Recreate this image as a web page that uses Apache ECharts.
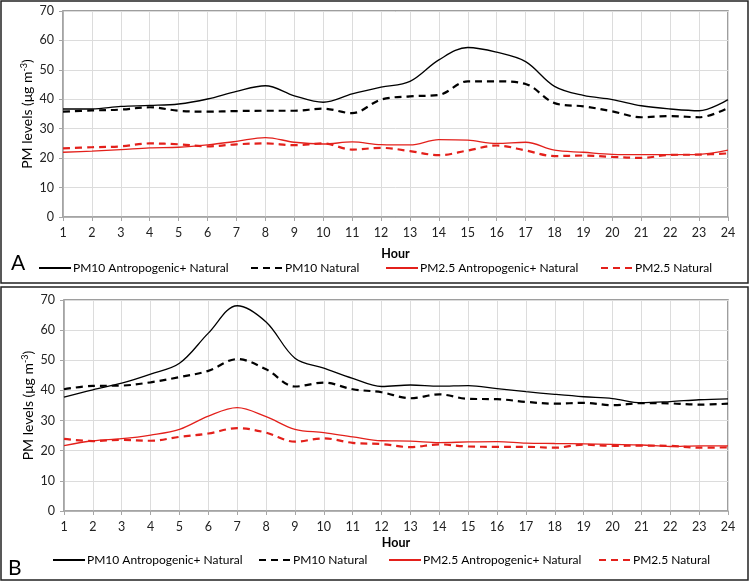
<!DOCTYPE html>
<html>
<head>
<meta charset="utf-8">
<script src="https://cdn.jsdelivr.net/npm/echarts@6/dist/echarts.min.js"></script>
<style>
html,body{margin:0;padding:0;background:#fff;}
#chart{width:750px;height:582px;}
</style>
</head>
<body>
<div id="chart"></div>
<script>
const hours = ['1','2','3','4','5','6','7','8','9','10','11','12','13','14','15','16','17','18','19','20','21','22','23','24'];
const seriesNames = ['PM10 Antropogenic+ Natural','PM10 Natural','PM2.5 Antropogenic+ Natural','PM2.5 Natural'];
const yTicks = [0,10,20,30,40,50,60,70];

// Panel A
const A_pm10Total = [36.7,36.7,37.6,37.9,38.4,40.1,42.7,44.6,41.2,39.0,41.8,44.1,46.1,53.4,57.6,56.0,52.8,44.4,41.3,39.9,37.8,36.7,36.1,39.9];
const A_pm10Nat   = [35.8,36.2,36.5,37.3,36.1,35.8,36.0,36.1,36.1,36.8,35.3,39.9,41.0,41.5,46.1,46.1,45.2,38.7,37.6,35.9,33.9,34.3,33.9,37.0];
const A_pm25Total = [22.0,22.4,22.9,23.5,23.7,24.5,25.7,27.0,25.4,24.8,25.5,24.6,24.5,26.3,26.1,25.0,25.4,22.7,22.0,21.3,21.2,21.2,21.3,22.7];
const A_pm25Nat   = [23.3,23.7,24.0,25.0,24.7,24.0,24.7,25.0,24.4,25.0,22.9,23.5,22.4,21.0,22.6,24.3,22.6,20.7,20.9,20.4,20.1,21.1,21.2,21.6];

// Panel B
const B_pm10Total = [37.8,40.2,42.4,45.4,49.0,59.0,68.1,62.7,50.7,47.4,44.0,41.3,41.8,41.4,41.6,40.6,39.6,38.7,37.9,37.3,35.9,36.3,36.9,37.2];
const B_pm10Nat   = [40.4,41.5,41.6,42.7,44.4,46.5,50.4,47.0,41.3,42.6,40.4,39.4,37.4,38.7,37.2,37.1,36.2,35.6,35.9,35.1,35.8,35.7,35.3,35.6];
const B_pm25Total = [21.7,23.3,24.0,25.2,27.1,31.5,34.3,31.3,27.1,26.0,24.6,23.3,23.2,22.7,22.9,23.0,22.5,22.4,22.3,22.1,21.9,21.4,21.6,21.6];
const B_pm25Nat   = [23.9,23.2,23.6,23.3,24.6,25.7,27.5,26.0,23.0,24.1,22.6,22.2,21.2,22.1,21.4,21.3,21.3,21.0,22.0,21.6,21.7,21.6,21.0,21.1];

const panelLabels = ['A','B'];

const FONT = 'Lato, "Noto Sans", sans-serif';
const chart = echarts.init(document.getElementById('chart'), null, {renderer:'canvas'});

const styles = [
  {color:'#000000', type:'solid', width:1.3},
  {color:'#000000', type:[7,5], width:2.2},
  {color:'#e3201b', type:'solid', width:1.3},
  {color:'#e3201b', type:[7,5], width:2.2}
];

const grids = [
  {left:63, top:11, width:665, height:206},
  {left:64, top:300, width:664, height:211}
];

function xAxis(gi){
  return {
    type:'category', gridIndex:gi, data:hours, boundaryGap:false,
    name:'Hour', nameLocation:'middle', nameGap: gi===0?30:25,
    nameTextStyle:{fontFamily:FONT, fontSize:12.5, fontWeight:'bold', color:'#000'},
    axisLine:{lineStyle:{color:'#a6a6a6', width:1.5}},
    axisTick:{show:true, length:4, lineStyle:{color:'#a6a6a6'}},
    axisLabel:{fontFamily:FONT, fontSize:12.5, color:'#222', margin:9},
    splitLine:{show:true, lineStyle:{color:'#dcdcdc', width:1}}
  };
}
function yAxis(gi){
  return {
    type:'value', gridIndex:gi, min:yTicks[0], max:yTicks[yTicks.length-1], interval:10,
    name:'{a|PM levels (μg m}{s|-3}{a|)}', nameLocation:'middle', nameGap:28,
    nameMoveOverlap:false,
    nameTextStyle:{rich:{a:{fontFamily:FONT, fontSize:14, color:'#000'}, s:{fontFamily:FONT, fontSize:9, color:'#000', verticalAlign:'top', padding:[0,0,6,0]}}},
    axisLine:{show:true, lineStyle:{color:'#a6a6a6', width:1.5}},
    axisTick:{show:true, length:4, lineStyle:{color:'#a6a6a6'}},
    axisLabel:{fontFamily:FONT, fontSize:12.5, color:'#222', margin:9},
    splitLine:{show:true, lineStyle:{color:'#dcdcdc', width:1}}
  };
}

const dataA = [A_pm10Total, A_pm10Nat, A_pm25Total, A_pm25Nat];
const dataB = [B_pm10Total, B_pm10Nat, B_pm25Total, B_pm25Nat];
const series = [];
[dataA, dataB].forEach((set, gi) => {
  set.forEach((d, i) => {
    series.push({
      name: seriesNames[i], type:'line', xAxisIndex:gi, yAxisIndex:gi,
      data:d, smooth:0.35, symbol:'none', silent:true,
      lineStyle:{color:styles[i].color, type:styles[i].type, width:styles[i].width},
      itemStyle:{color:styles[i].color},
      z: 10 - i
    });
  });
});

const legendPos = [
  [[38,262],[250,262],[385,262],[600,262]],
  [[52,554],[258,554],[388,554],[598,554]]
];
const legends = [];
legendPos.forEach(row => row.forEach((p, i) => {
  legends.push({
    data:[seriesNames[i]], left:p[0], top:p[1], itemWidth:32, itemHeight:14, itemGap:0,
    padding:0, selectedMode:false,
    itemStyle:{opacity:0, borderWidth:0},
    textStyle:{fontFamily:FONT, fontSize:12, color:'#000', padding:[0,0,0,-3]}
  });
}));

chart.setOption({
  animation:false,
  backgroundColor:'#fff',
  grid: grids.map(g => Object.assign({show:true, borderColor:'#7f7f7f', borderWidth:1.5, backgroundColor:'transparent'}, g)),
  xAxis:[xAxis(0), xAxis(1)],
  yAxis:[yAxis(0), yAxis(1)],
  legend: legends,
  series: series,
  graphic:[
    {type:'rect', shape:{x:1, y:1, width:747, height:282}, style:{fill:'none', stroke:'#222', lineWidth:1.5}, z:-1},
    {type:'rect', shape:{x:1, y:287, width:747, height:293}, style:{fill:'none', stroke:'#222', lineWidth:1.5}, z:-1},
    {type:'text', x:11, y:253, style:{text:panelLabels[0], font:'21px '+FONT, fill:'#000', verticalAlign:'top', align:'left'}},
    {type:'text', x:8, y:558, style:{text:panelLabels[1], font:'21px '+FONT, fill:'#000', verticalAlign:'top', align:'left'}}
  ]
});
</script>
</body>
</html>
